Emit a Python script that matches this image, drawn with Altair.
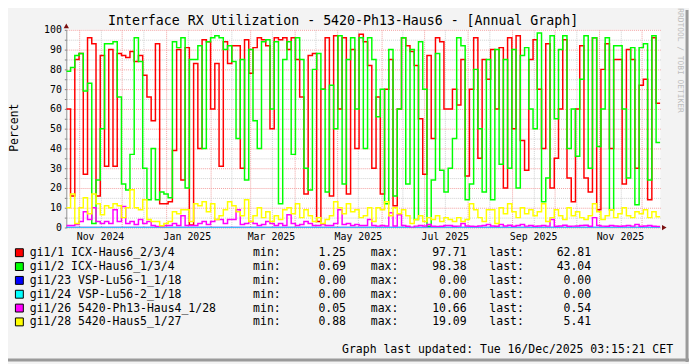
import altair as alt
import pandas as pd

MONO = "DejaVu Sans Mono"
START = pd.Timestamp("2024-10-23")
END_DAY = 417.0

# ---- series values (~3-day steps) ----
red_vals = [60, 16, 85, 88, 27, 96, 93, 16, 87, 31,
            90, 31, 88, 87, 86, 89, 84, 87, 77, 66,
            54, 93, 12, 12, 13, 39, 90, 24, 91, 1.25,
            83, 40, 95, 94, 60, 83, 31, 94, 83, 92,
            92, 30, 95, 78, 91, 96, 95, 92, 50, 96,
            95, 96, 90, 96, 85, 66, 17, 87, 88, 3,
            70, 96, 16, 97, 60, 96, 17, 90, 40, 97.71,
            94, 82, 30, 66, 17, 70, 85, 11, 60, 96,
            92, 89, 82, 55, 27, 87, 45, 96, 94, 60,
            60, 70, 62, 85, 26, 70, 96, 35, 85, 75,
            90, 60, 91, 20, 96, 50, 97, 44, 29, 85,
            95, 70, 40, 93, 20, 35, 60, 95, 25, 13,
            60, 92, 25, 18, 96, 9, 80, 93, 40, 85,
            85, 22, 90, 85, 30, 72, 75, 14, 96, 62.81]

green_vals = [79, 81, 87, 88, 69, 73, 2, 24, 50, 93,
              93, 94, 66, 22, 19, 37, 96, 84, 30, 14,
              40, 14, 18, 17, 15, 94, 91, 96, 20, 85,
              85, 92, 40, 94, 96, 97, 96, 90, 92, 84,
              45, 85, 24, 90, 54, 40, 94, 95, 60, 94,
              12, 85, 94, 37, 96, 85, 30, 19, 80, 88,
              70, 18, 72, 50, 97, 22, 85, 96, 60, 96,
              40, 96, 85, 56, 70, 12, 90, 16, 60, 96,
              22, 90, 4, 94, 70, 0.69, 24, 88, 29, 18,
              30, 45, 96, 92, 14, 22, 80, 50, 18, 85,
              14, 90, 32, 85, 30, 90, 20, 87, 91, 60,
              50, 98.38, 13, 25, 97, 55, 90, 97, 40, 60,
              36, 75, 97, 30, 96, 41, 60, 96, 9, 92,
              92, 60, 25, 91, 11.5, 91, 93, 24, 97, 43.04]

blue_vals = [0.0, 0.0]
cyan_vals = [0.0, 0.0]

magenta_vals = [1, 1, 1.5, 3, 8, 4, 10, 3, 2, 3,
                2, 9, 3, 10.66, 2, 3, 1.5, 4, 2, 3,
                1, 0.5, 0.5, 1, 1, 2, 1, 6, 1, 1,
                1, 2, 3, 1.5, 3, 4, 4, 2, 4, 4,
                9, 1.5, 2, 3, 2, 1, 1.5, 3, 2, 1,
                2, 1, 6.5, 2, 1, 1.5, 3, 2, 1, 1,
                1.5, 1, 1, 2, 9, 1.5, 2, 1, 1.5, 1,
                1, 4, 1, 0.7, 1, 0.8, 7.5, 0.8, 6.5, 1,
                0.6, 0.05, 0.7, 1, 0.8, 1.5, 0.6, 0.5, 0.6, 1,
                1, 0.6, 0.7, 2, 0.8, 0.6, 0.5, 0.8, 1, 1.5,
                0.8, 0.6, 1.5, 0.8, 1.2, 0.6, 1, 1.5, 0.7, 1,
                0.6, 0.8, 1, 0.7, 4, 0.6, 0.8, 1.2, 0.6, 0.7,
                0.8, 1, 1.2, 0.6, 5, 1, 0.7, 0.6, 1, 0.8,
                0.6, 0.8, 1, 0.7, 1.5, 0.6, 0.8, 1, 0.6, 0.54]

yellow_vals = [10, 17, 2, 10, 15, 7, 17, 12, 6.5, 11,
               10, 12, 11, 5, 10, 19.09, 10, 9, 14, 4,
               3, 3, 0.88, 2, 3, 8, 7, 9, 9, 3,
               12, 11, 13, 8, 12, 4, 6, 9, 13, 11,
               8, 6, 14, 3, 6, 10, 5, 8, 3, 6,
               4, 9, 10, 7, 12, 5, 9, 6, 3, 5,
               2, 4, 6, 13, 10, 7, 12, 8, 9, 5,
               6, 10, 3, 10, 9, 13, 6, 10, 7, 9,
               6, 2, 4, 6, 3, 5, 4, 6, 3, 5,
               4, 3, 5, 3, 4, 12, 9, 5, 3, 9,
               9, 2, 10, 7, 12, 8, 5, 10, 7, 9,
               6, 8, 12, 3, 5, 9, 6, 4, 10, 6,
               8, 5, 4, 6, 12, 8, 4, 6, 9, 5,
               7, 10, 6, 5, 8, 7, 9, 5, 8, 5.41]

series_labels = ["gi1/1 ICX-Haus6_2/3/4", "gi1/2 ICX-Haus6_1/3/4",
                 "gi1/23 VSP-Lu56-1_1/18", "gi1/24 VSP-Lu56-2_1/18",
                 "gi1/26 5420-Ph13-Haus4_1/28", "gi1/28 5420-Haus5_1/27"]
series_colors = ["#FF0000", "#00FF00", "#0000FF", "#00FFFF", "#FF00FF", "#FFFF00"]
min_vals = [1.25, 0.69, 0.00, 0.00, 0.05, 0.88]
max_vals = [97.71, 98.38, 0.00, 0.00, 10.66, 19.09]
last_vals = [62.81, 43.04, 0.00, 0.00, 0.54, 5.41]

x_label_dates = ["2024-11-16", "2025-01-16", "2025-03-16", "2025-05-16",
                 "2025-07-16", "2025-09-16", "2025-11-16"]
x_label_texts = ["Nov 2024", "Jan 2025", "Mar 2025", "May 2025",
                 "Jul 2025", "Sep 2025", "Nov 2025"]
major_grid_dates = ["2024-11-01", "2024-12-01", "2025-01-01", "2025-02-01",
                    "2025-03-01", "2025-04-01", "2025-05-01", "2025-06-01",
                    "2025-07-01", "2025-08-01", "2025-09-01", "2025-10-01",
                    "2025-11-01", "2025-12-01"]
minor_grid_dates = ["2024-11-16", "2024-12-16", "2025-01-16", "2025-02-16",
                    "2025-03-16", "2025-04-16", "2025-05-16", "2025-06-16",
                    "2025-07-16", "2025-08-16", "2025-09-16", "2025-10-16",
                    "2025-11-16"]
y_ticks = [0, 5, 10, 15, 20, 25, 30, 35, 40, 45, 50, 55, 60, 65, 70, 75,
           80, 85, 90, 95, 100]

title_text = "Interface RX Utilization - 5420-Ph13-Haus6 - [Annual Graph]"
updated_text = "Graph last updated: Tue 16/Dec/2025 03:15:21 CET"
side_text = "RRDTOOL / TOBI OETIKER"


def day_of(d):
    return float((pd.Timestamp(d) - START).days)


def series_df(vals):
    n = len(vals)
    step = END_DAY / n
    days = [round(i * step, 4) for i in range(n)] + [END_DAY]
    values = list(vals) + [vals[-1]]
    return pd.DataFrame({"day": days, "value": values})


MAJOR_C = "#F2A0A0"
MINOR_C = "#CFCFCF"
FS = 11.6

major_days = [day_of(d) for d in major_grid_dates]
minor_days = [day_of(d) for d in minor_grid_dates]
grid_days = sorted(major_days + minor_days)
major_test = "indexof([" + ",".join(str(v) for v in major_days) + "], datum.value) >= 0"

xs = alt.Scale(domain=[0, END_DAY], nice=False, zero=False)
ys = alt.Scale(domain=[0, 100], nice=False, zero=False)

x_axis = alt.Axis(values=grid_days, labels=False, ticks=False, domain=False,
                  grid=True, gridDash=[1, 1], gridOpacity=1, title=None,
                  gridColor={"condition": {"test": major_test, "value": MAJOR_C},
                             "value": MINOR_C})
y_axis = alt.Axis(values=y_ticks, grid=True, gridDash=[1, 1], gridOpacity=1,
                  gridColor={"condition": {"test": "datum.value % 10 === 0", "value": MAJOR_C},
                             "value": MINOR_C},
                  labelExpr="datum.value % 10 === 0 ? datum.label : ''",
                  labelOverlap=False,
                  labelFont=MONO, labelFontSize=10, labelColor="#000000",
                  labelPadding=3, tickSize=2, tickColor="#808080",
                  domainColor="#909090", title=None)


def line_layer(vals, color, width):
    return alt.Chart(series_df(vals)).mark_line(
        interpolate="step-after", color=color, strokeWidth=width, clip=True
    ).encode(x=alt.X("day:Q", scale=xs, axis=x_axis),
             y=alt.Y("value:Q", scale=ys, axis=y_axis))


layers = [
    line_layer(red_vals, series_colors[0], 1.5),
    line_layer(green_vals, series_colors[1], 1.5),
    line_layer(blue_vals, series_colors[2], 1.6),
    line_layer(cyan_vals, series_colors[3], 1.2),
    line_layer(magenta_vals, series_colors[4], 1.5),
    line_layer(yellow_vals, series_colors[5], 1.5),
]

# x tick labels through the x scale
xlab_df = pd.DataFrame({"day": [day_of(d) for d in x_label_dates], "label": x_label_texts})
xlabels = alt.Chart(xlab_df).mark_text(
    font=MONO, fontSize=10, color="#000000", baseline="middle", align="center"
).encode(x=alt.X("day:Q", scale=xs, axis=x_axis), y=alt.value(210), text="label:N")

# arrows
arrow_up = alt.Chart(pd.DataFrame({"k": [0]})).mark_point(
    shape="triangle-up", filled=True, size=28, color="#7A1010", opacity=1
).encode(x=alt.value(0), y=alt.value(-4))
arrow_right = alt.Chart(pd.DataFrame({"k": [0]})).mark_point(
    shape="triangle-right", filled=True, size=28, color="#7A1010", opacity=1
).encode(x=alt.value(605), y=alt.value(200))

# title & side texts
one = pd.DataFrame({"k": [0]})
title = alt.Chart(one).mark_text(
    text=title_text, font=MONO, fontSize=13.4, color="#000000", align="center", baseline="middle"
).encode(x=alt.value(280), y=alt.value(-9))
ytitle = alt.Chart(one).mark_text(
    text="Percent", font=MONO, fontSize=FS, color="#000000", align="center",
    baseline="middle", angle=270
).encode(x=alt.value(-52), y=alt.value(99))
side = alt.Chart(one).mark_text(
    text=side_text, font=MONO, fontSize=8, color="#BDBDBD", align="center",
    baseline="middle", angle=90
).encode(x=alt.value(621), y=alt.value(31))
updated = alt.Chart(one).mark_text(
    text=updated_text, font=MONO, fontSize=FS, color="#000000", align="left",
    baseline="middle"
).encode(x=alt.value(279), y=alt.value(324))

# legend rows
leg_df = pd.DataFrame({
    "row": list(range(len(series_labels))),
    "name": series_labels,
    "color": series_colors,
    "mn": [f"{v:.2f}" for v in min_vals],
    "mx": [f"{v:.2f}" for v in max_vals],
    "ls": [f"{v:.2f}" for v in last_vals],
})
leg_base = alt.Chart(leg_df).transform_calculate(
    ty="226 + 14 * datum.row", sy1="221.5 + 14 * datum.row", sy2="229.5 + 14 * datum.row"
)
swatch = leg_base.mark_rect(stroke="#000000", strokeWidth=1).encode(
    x=alt.value(-51.5), x2=alt.value(-43.5),
    y=alt.Y("sy1:Q", scale=None, axis=None), y2="sy2:Q",
    fill=alt.Color("color:N", scale=None, legend=None),
)


def leg_text(field, xpix, align):
    return leg_base.mark_text(
        font=MONO, fontSize=FS, color="#000000", align=align, baseline="middle"
    ).encode(x=alt.value(xpix), y=alt.Y("ty:Q", scale=None, axis=None), text=f"{field}:N")


def leg_fixed(txt, xpix):
    return leg_base.mark_text(text=txt, font=MONO, fontSize=FS, color="#000000",
                              align="left", baseline="middle").encode(
        x=alt.value(xpix), y=alt.Y("ty:Q", scale=None, axis=None))


leg_names = leg_text("name", -37, "left")
leg_min_lbl = leg_fixed("min:", 189)
leg_max_lbl = leg_fixed("max:", 308)
leg_last_lbl = leg_fixed("last:", 428)
leg_min = leg_text("mn", 283, "right")
leg_max = leg_text("mx", 405, "right")
leg_last = leg_text("ls", 531, "right")

# frame (3D border of the image)
frame_r = alt.Chart(one).mark_rule(color="#9A9A9A", strokeWidth=3).encode(
    x=alt.value(628), y=alt.value(-20), y2=alt.value(336))
frame_b = alt.Chart(one).mark_rule(color="#9A9A9A", strokeWidth=3).encode(
    x=alt.value(-59), x2=alt.value(630), y=alt.value(334))

chart = alt.layer(
    *layers, xlabels, arrow_up, arrow_right, title, ytitle, side, updated,
    swatch, leg_names, leg_min_lbl, leg_max_lbl, leg_last_lbl, leg_min, leg_max, leg_last,
    frame_r, frame_b
).properties(
    width=601, height=200,
    padding={"left": 59, "top": 20, "right": 29, "bottom": 136},
    autosize=alt.AutoSizeParams(type="none"),
    background="#F3F3F3",
).configure_view(fill="#FFFFFF", stroke=None)

chart.save("out.html", embed_options={"renderer": "svg", "actions": False})
